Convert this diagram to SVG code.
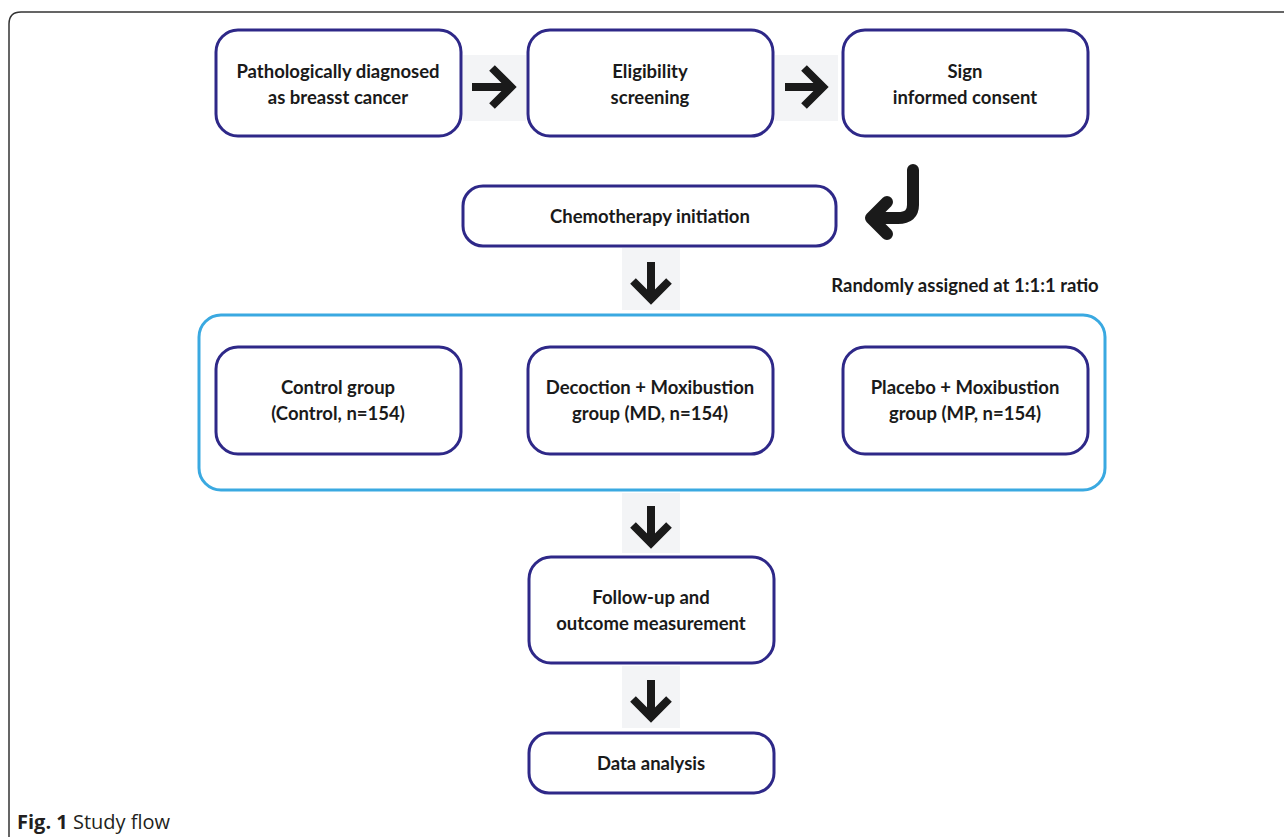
<svg xmlns="http://www.w3.org/2000/svg" width="1284" height="837" viewBox="0 0 1284 837">
<style>
.box{fill:#fff;stroke:#2e2888;stroke-width:3}
.t{font-family:Lato,"Liberation Sans",sans-serif;font-weight:700;font-size:18.5px;fill:#1a1a1a;text-anchor:middle}
.bg{fill:#f3f4f6}
.ar{fill:none;stroke:#1a1a1a;stroke-width:8;stroke-linejoin:miter}
.cap{font-family:"Open Sans","Liberation Sans",sans-serif;font-size:20px;fill:#231f20}
</style>
<rect width="1284" height="837" fill="#fff"/>
<path d="M9 837 V24 Q9 12 21 12 H1284" fill="none" stroke="#333" stroke-width="1.5"/>
<g id="connectors">
<rect class="bg" x="463" y="55" width="63" height="66"/>
<path class="ar" d="M472 87 H510 M492 68 L511 87 L492 106"/>
<rect class="bg" x="775" y="55" width="63" height="66"/>
<path class="ar" d="M785 87 H822 M804 68 L823 87 L804 106"/>
<path d="M913 170 V205 Q913 218 898 218 H878" fill="none" stroke="#1a1a1a" stroke-width="12" stroke-linecap="round"/>
<path d="M887 202 L871 218 L887 234" fill="none" stroke="#1a1a1a" stroke-width="12" stroke-linecap="round" stroke-linejoin="round"/>
<rect class="bg" x="622" y="248" width="58" height="62"/>
<path class="ar" d="M651 262 V298 M633 281 L651 299 L669 281"/>
<rect class="bg" x="622" y="493" width="58" height="60"/>
<path class="ar" d="M651 506 V542 M633 525 L651 543 L669 525"/>
<rect class="bg" x="622" y="666" width="58" height="62"/>
<path class="ar" d="M651 680 V716 M633 699 L651 717 L669 699"/>
</g>
<g id="n1"><rect class="box" x="216" y="30" width="245" height="106" rx="22"/><text class="t" x="338" y="78">Pathologically diagnosed</text><text class="t" x="338" y="104">as breasst cancer</text></g>
<g id="n2"><rect class="box" x="528" y="30" width="245" height="106" rx="22"/><text class="t" x="650" y="78">Eligibility</text><text class="t" x="650" y="104">screening</text></g>
<g id="n3"><rect class="box" x="843" y="30" width="245" height="106" rx="22"/><text class="t" x="965" y="78">Sign</text><text class="t" x="965" y="104">informed consent</text></g>
<g id="n4"><rect class="box" x="463" y="186" width="373" height="60" rx="20"/><text class="t" x="650" y="223">Chemotherapy initiation</text></g>
<g id="label"><text class="t" x="965" y="292">Randomly assigned at 1:1:1 ratio</text></g>
<g id="container"><rect x="199" y="315" width="906" height="175" rx="22" fill="none" stroke="#3aa9e1" stroke-width="3"/></g>
<g id="n5"><rect class="box" x="216" y="347" width="245" height="107" rx="22"/><text class="t" x="338" y="394">Control group</text><text class="t" x="338" y="420">(Control, n=154)</text></g>
<g id="n6"><rect class="box" x="528" y="347" width="245" height="107" rx="22"/><text class="t" x="650" y="394">Decoction + Moxibustion</text><text class="t" x="650" y="420">group (MD, n=154)</text></g>
<g id="n7"><rect class="box" x="843" y="347" width="245" height="107" rx="22"/><text class="t" x="965" y="394">Placebo + Moxibustion</text><text class="t" x="965" y="420">group (MP, n=154)</text></g>
<g id="n8"><rect class="box" x="529" y="557" width="245" height="106" rx="22"/><text class="t" x="651" y="604">Follow-up and</text><text class="t" x="651" y="630">outcome measurement</text></g>
<g id="n9"><rect class="box" x="529" y="733" width="245" height="60" rx="20"/><text class="t" x="651" y="770">Data analysis</text></g>
<text class="cap" x="17" y="829"><tspan font-weight="700">Fig. 1</tspan> Study flow</text>
</svg>
